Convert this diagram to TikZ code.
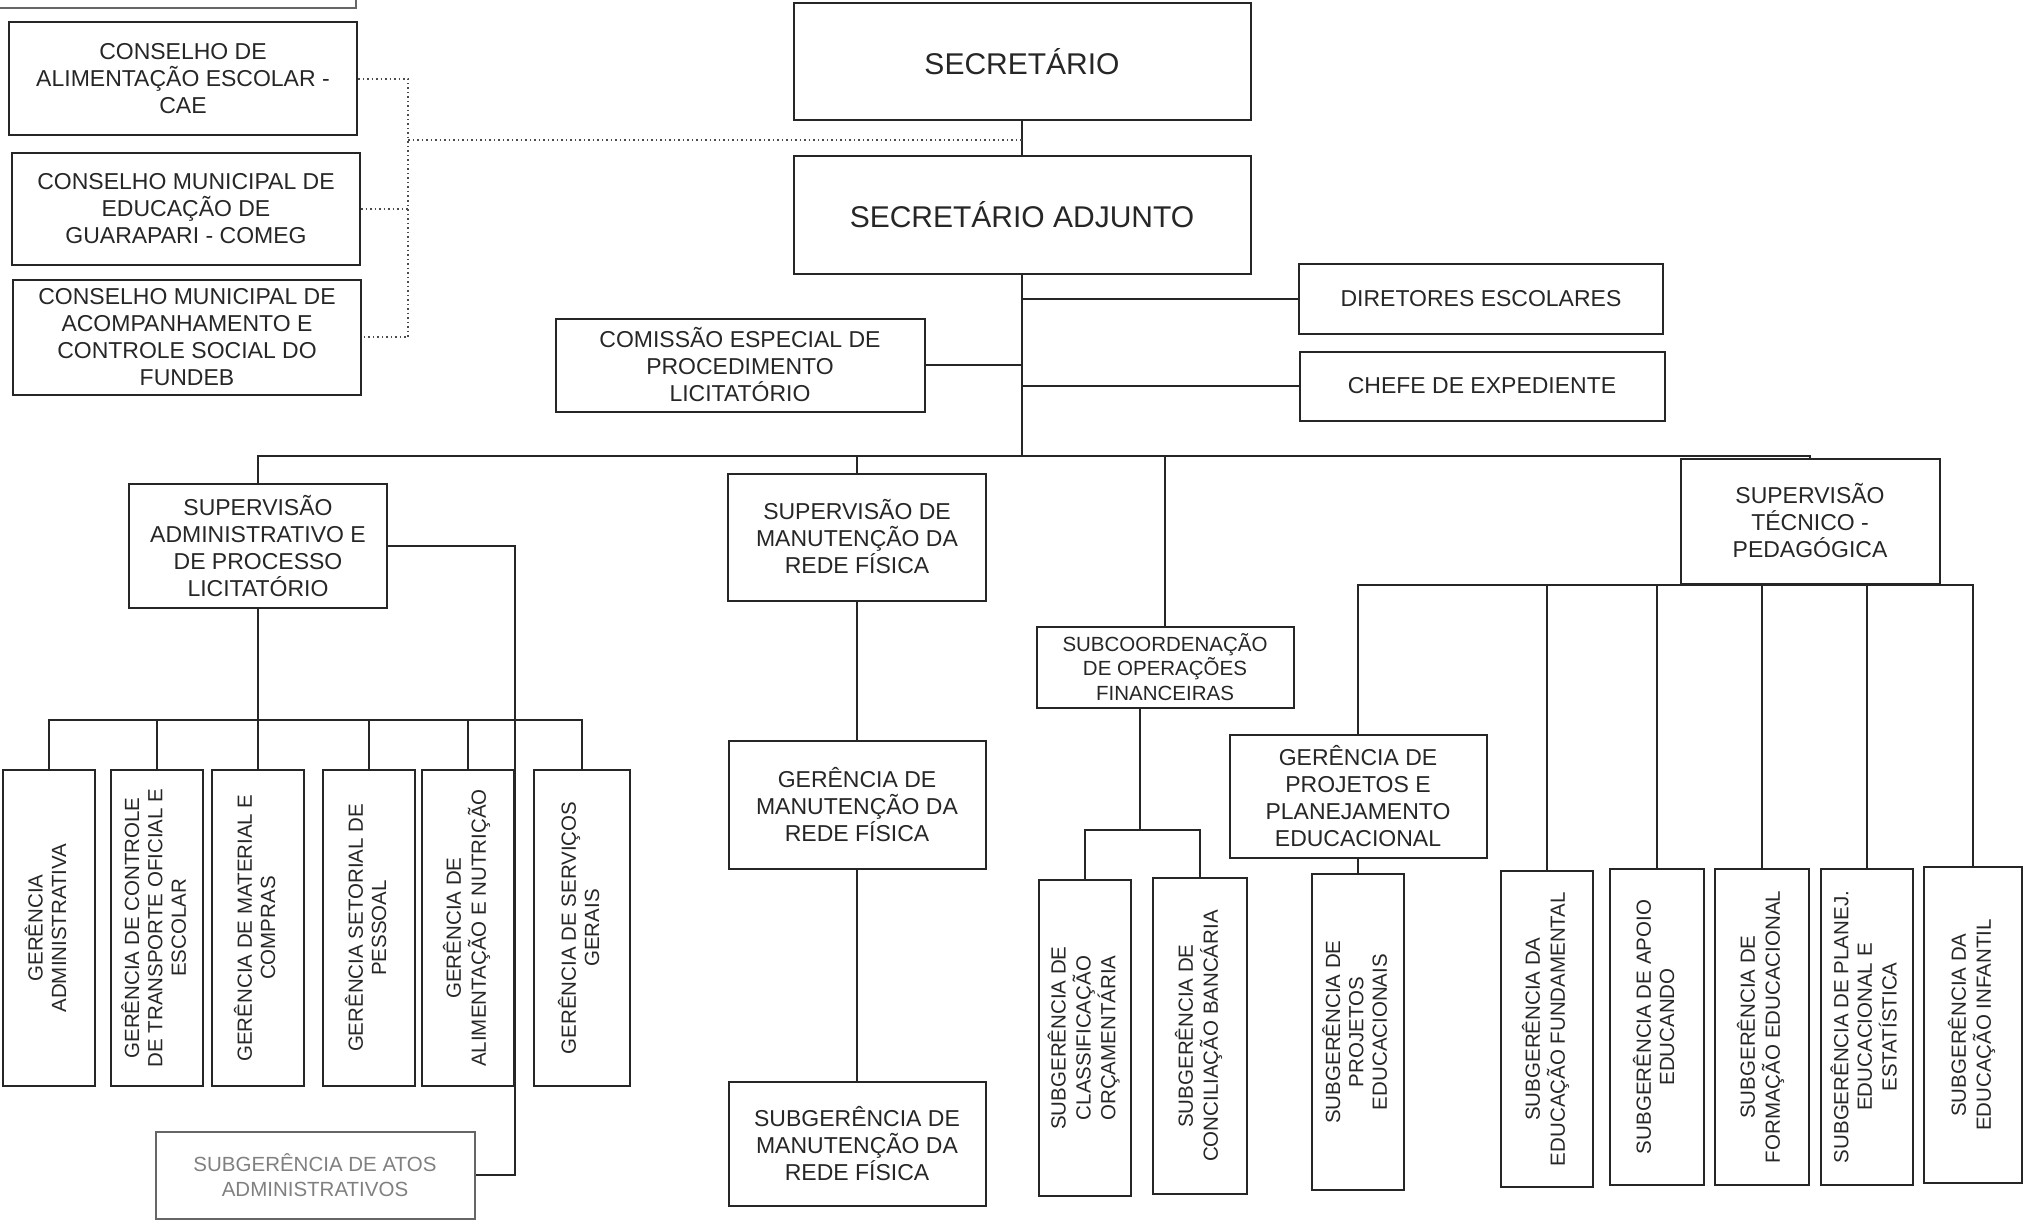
\documentclass[tikz,border=0pt]{standalone}
\usepackage{fontspec}
\setmainfont{Liberation Sans}
\usepackage{graphicx}
\usepackage{tikz}

\newcommand{\vlab}[1]{\rotatebox{90}{\begin{tabular}{@{}c@{}}#1\end{tabular}}}

\tikzset{
  box/.style={draw=black!85, line width=2pt, align=center, inner sep=2pt, text=black!85, font=\fontsize{23}{27}\selectfont},
  bigbox/.style={box, font=\fontsize{30}{34}\selectfont},
  smallbox/.style={box, font=\fontsize{20.5}{24.7}\selectfont},
  vbox/.style={box, minimum width=92pt, minimum height=316pt, font=\fontsize{20.5}{23.4}\selectfont},
  link/.style={draw=black!85, line width=2pt},
  dotlink/.style={draw=black!70, line width=1.5pt, dash pattern=on 1.5pt off 3pt},
}

\begin{document}
\begin{tikzpicture}[x=1pt, y=-1pt]
\useasboundingbox (0,0) rectangle (2036,1225);
\draw[black!60, line width=2pt] (0,8) -- (356,8) -- (356,0);

% top
\node[bigbox, minimum width=457pt, minimum height=117pt] (sec) at (1022,62) {SECRETÁRIO};
\node[bigbox, minimum width=457pt, minimum height=118pt] (adj) at (1022,215) {SECRETÁRIO ADJUNTO};

% conselhos
\node[box, minimum width=348pt, minimum height=113pt] (cae) at (183,79) {CONSELHO DE\\ALIMENTAÇÃO ESCOLAR -\\CAE};
\node[box, minimum width=348pt, minimum height=112pt] (comeg) at (186,209) {CONSELHO MUNICIPAL DE\\EDUCAÇÃO DE\\GUARAPARI - COMEG};
\node[box, minimum width=348pt, minimum height=115pt] (fundeb) at (187,337) {CONSELHO MUNICIPAL DE\\ACOMPANHAMENTO E\\CONTROLE SOCIAL DO\\FUNDEB};
\coordinate (dotx) at (408,140);

\node[box, minimum width=369pt, minimum height=93pt] (comissao) at (740,365) {COMISSÃO ESPECIAL DE\\PROCEDIMENTO\\LICITATÓRIO};
\node[box, minimum width=364pt, minimum height=70pt] (diretores) at (1481,299) {DIRETORES ESCOLARES};
\node[box, minimum width=365pt, minimum height=69pt] (chefe) at (1482,386) {CHEFE DE EXPEDIENTE};
\coordinate (bus) at (1022,456);

% supervisoes
\node[box, minimum width=258pt, minimum height=124pt] (supadm) at (258,546) {SUPERVISÃO\\ADMINISTRATIVO E\\DE PROCESSO\\LICITATÓRIO};
\node[box, minimum width=258pt, minimum height=127pt] (supman) at (857,537) {SUPERVISÃO DE\\MANUTENÇÃO DA\\REDE FÍSICA};
\node[smallbox, minimum width=257pt, minimum height=81pt] (subcoord) at (1165,667) {SUBCOORDENAÇÃO\\DE OPERAÇÕES\\FINANCEIRAS};
\node[box, minimum width=259pt, minimum height=125pt] (suptec) at (1810,521) {SUPERVISÃO\\TÉCNICO -\\PEDAGÓGICA};

% administrativo
\coordinate (admbus) at (258,720);
\node[vbox] (ger1) at (49,928) {\vlab{GERÊNCIA\\ADMINISTRATIVA}};
\node[vbox] (ger2) at (157,928) {\vlab{GERÊNCIA DE CONTROLE\\DE TRANSPORTE OFICIAL E\\ESCOLAR}};
\node[vbox] (ger3) at (258,928) {\vlab{GERÊNCIA DE MATERIAL E\\COMPRAS}};
\node[vbox] (ger4) at (369,928) {\vlab{GERÊNCIA SETORIAL DE\\PESSOAL}};
\node[vbox] (ger5) at (468,928) {\vlab{GERÊNCIA DE\\ALIMENTAÇÃO E NUTRIÇÃO}};
\node[vbox, minimum width=96pt] (ger6) at (582,928) {\vlab{GERÊNCIA DE SERVIÇOS\\GERAIS}};
\node[smallbox, draw=black!60, text=black!50, minimum width=319pt, minimum height=87pt] (atos) at (315,1175) {SUBGERÊNCIA DE ATOS\\ADMINISTRATIVOS};

% manutencao
\node[box, minimum width=257pt, minimum height=128pt] (german) at (857,805) {GERÊNCIA DE\\MANUTENÇÃO DA\\REDE FÍSICA};
\node[box, minimum width=257pt, minimum height=124pt] (subman) at (857,1144) {SUBGERÊNCIA DE\\MANUTENÇÃO DA\\REDE FÍSICA};

% financeiras
\coordinate (finbus) at (1140,830);
\node[vbox] (sclass) at (1085,1038) {\vlab{SUBGERÊNCIA DE\\CLASSIFICAÇÃO\\ORÇAMENTÁRIA}};
\node[vbox, minimum width=94pt] (sconc) at (1200,1036) {\vlab{SUBGERÊNCIA DE\\CONCILIAÇÃO BANCÁRIA}};

% tecnico-pedagogica
\node[box, minimum width=257pt, minimum height=123pt] (gerproj) at (1358,796) {GERÊNCIA DE\\PROJETOS E\\PLANEJAMENTO\\EDUCACIONAL};
\node[vbox] (sproj) at (1358,1032) {\vlab{SUBGERÊNCIA DE\\PROJETOS\\EDUCACIONAIS}};
\node[vbox] (sfund) at (1547,1029) {\vlab{SUBGERÊNCIA DA\\EDUCAÇÃO FUNDAMENTAL}};
\node[vbox, minimum width=94pt] (sapoio) at (1657,1027) {\vlab{SUBGERÊNCIA DE APOIO\\EDUCANDO}};
\node[vbox, minimum width=94pt] (sform) at (1762,1027) {\vlab{SUBGERÊNCIA DE\\FORMAÇÃO EDUCACIONAL}};
\node[vbox] (splan) at (1867,1027) {\vlab{SUBGERÊNCIA DE PLANEJ.\\EDUCACIONAL E\\ESTATÍSTICA}};
\node[vbox, minimum width=98pt] (sinf) at (1973,1025) {\vlab{SUBGERÊNCIA DA\\EDUCAÇÃO INFANTIL}};

% ligacoes
\draw[link] (sec) -- (adj);
\draw[link] (adj.south) -- (bus);
\draw[link] (comissao.east) -- (adj.south |- comissao.east);
\draw[link] (diretores.west) -- (adj.south |- diretores.west);
\draw[link] (chefe.west) -- (adj.south |- chefe.west);
\draw[link] (supadm.north) |- (bus) -| (suptec.north);
\draw[link] (supman.north) -- (supman.north |- bus);
\draw[link] (subcoord.north) -- (subcoord.north |- bus);

\draw[dotlink] (cae.east) -- (cae.east -| dotx) -- (fundeb.east -| dotx) -- (fundeb.east);
\draw[dotlink] (comeg.east) -- (comeg.east -| dotx);
\draw[dotlink] (dotx) -- (sec.south |- dotx);

\draw[link] (supadm.south) -- (admbus);
\draw[link] (ger1.north) |- (admbus) -| (ger6.north);
\foreach \g in {ger2,ger3,ger4,ger5}
  \draw[link] (\g.north) -- (\g.north |- admbus);
\draw[link] (supadm.east) -| (ger5.east |- atos.east) -- (atos.east);

\draw[link] (supman) -- (german);
\draw[link] (german) -- (subman);

\draw[link] (subcoord.south -| finbus) -- (finbus);
\draw[link] (sclass.north) |- (finbus) -| (sconc.north);

\draw[link] (gerproj.north) |- (suptec.south) -| (sinf.north);
\foreach \s in {sfund,sapoio,sform,splan}
  \draw[link] (\s.north) -- (\s.north |- suptec.south);
\draw[link] (gerproj) -- (sproj);
\end{tikzpicture}
\end{document}
